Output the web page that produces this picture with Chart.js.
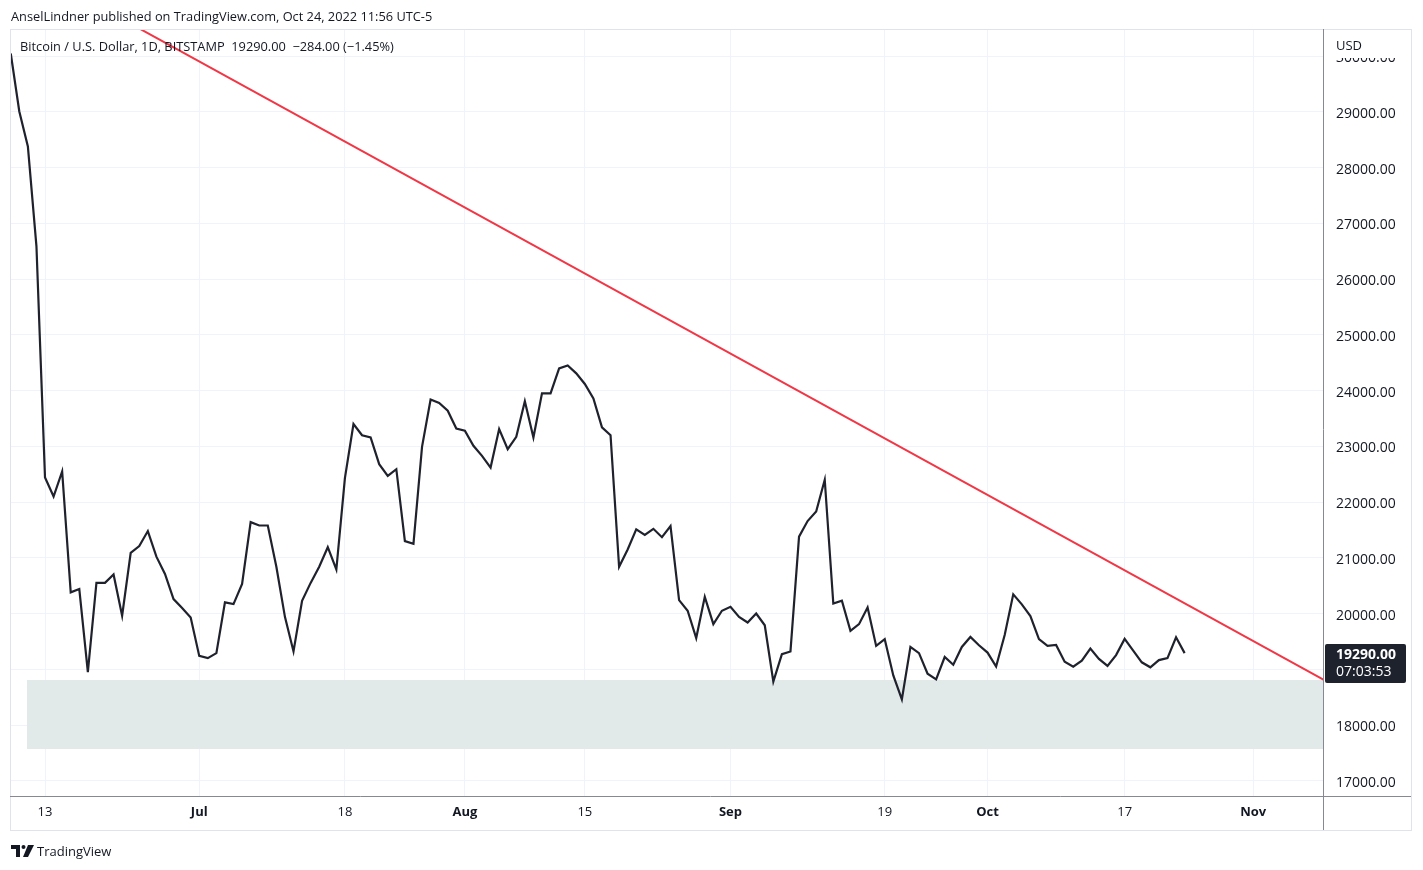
<!DOCTYPE html>
<html>
<head>
<meta charset="utf-8">
<script src="https://cdn.jsdelivr.net/npm/chart.js@4.4.1/dist/chart.umd.min.js"></script>
<style>
  html, body { margin: 0; padding: 0; background: #ffffff; }
  body { width: 1423px; height: 870px; position: relative; overflow: hidden; font-family: 'Open Sans', sans-serif; color: #131722; }
  #c { position: absolute; left: 0; top: 0; }
  .t { position: absolute; white-space: pre; line-height: 1; }
</style>
</head>
<body>
<canvas id="c" width="1423" height="870"></canvas>
<div class="t" style="left:11px; top:10px; font-size:12.8px;">AnselLindner published on TradingView.com, Oct 24, 2022 11:56 UTC-5</div>
<div class="t" style="left:20px; top:40px; font-size:12.8px;">Bitcoin / U.S. Dollar, 1D, BITSTAMP  19290.00  −284.00 (−1.45%)</div>
<div class="t" style="left:1336px; top:39px; font-size:13px;">USD</div>
<svg style="position:absolute; left:11px; top:845px;" width="24" height="13" viewBox="0 0 24 13">
  <path d="M0 0 H9 V12 H5 V4 H0 Z" fill="#131722"/>
  <circle cx="12.5" cy="2" r="2" fill="#131722"/>
  <path d="M17 0 H23 L17 12 H12 Z" fill="#131722"/>
</svg>
<div class="t" style="left:37px; top:845px; font-size:13px;">TradingView</div>
<script>
// ---------------- data ----------------
const originDate = '2022-06-13';          // day 0 of the time axis
const firstCloseDate = '2022-06-09';      // date of first close below
const closes = [
  // Jun 9 - Jun 30
  30050, 29010, 28380, 26590, 22440, 22100, 22550, 20380, 20440, 18950, 20550,
  20550, 20700, 19960, 21090, 21210, 21480, 21020, 20710, 20260, 20100, 19930,
  // Jul 1 - Jul 31
  19240, 19200, 19290, 20200, 20170, 20530, 21640, 21580, 21580, 20840, 19940,
  19320, 20230, 20550, 20840, 21190, 20790, 22430, 23400, 23200, 23160, 22680,
  22470, 22590, 21300, 21250, 22990, 23840, 23780, 23640, 23320,
  // Aug 1 - Aug 31
  23280, 23010, 22830, 22620, 23310, 22950, 23170, 23810, 23160, 23950, 23950,
  24400, 24450, 24310, 24120, 23860, 23340, 23200, 20840, 21150, 21510, 21410,
  21520, 21370, 21570, 20240, 20050, 19560, 20300, 19810, 20050,
  // Sep 1 - Sep 30
  20120, 19940, 19840, 20000, 19790, 18780, 19270, 19320, 21380, 21660, 21830,
  22400, 20180, 20230, 19690, 19810, 20110, 19420, 19540, 18890, 18460, 19400,
  19290, 18920, 18820, 19220, 19080, 19400, 19580, 19430,
  // Oct 1 - Oct 24
  19300, 19050, 19615, 20345, 20165, 19955, 19540, 19420, 19435, 19135, 19045,
  19155, 19370, 19185, 19060, 19255, 19545, 19335, 19125, 19035, 19165, 19200,
  19575, 19290
];
const lastPrice = 19290.00;
const countdown = '07:03:53';

// time-axis tick labels
const tickDates  = ['2022-06-13','2022-07-01','2022-07-18','2022-08-01','2022-08-15',
                    '2022-09-01','2022-09-19','2022-10-01','2022-10-17','2022-11-01'];
const tickLabels = ['13','Jul','18','Aug','15','Sep','19','Oct','17','Nov'];
const monthTick  = [false,true,false,true,false,true,false,true,false,true];

// price-axis ticks
const priceTicks = [17000, 18000, 19000, 20000, 21000, 22000, 23000, 24000,
                    25000, 26000, 27000, 28000, 29000, 30000];

// drawn trend line (two anchors, in days / USD)
const trendDays   = [10, 149.2];
const trendPrices = [30583, 18812];

// support zone (days / USD)
const zoneDays   = [-2.1, 149.2];
const zoneTop    = 18807;
const zoneBottom = 17569;

// visible ranges
const xRange = [-3.97, 149.15];
const yRange = [16726, 30471];

// ---------------- helpers ----------------
const DAY = 86400000;
const dayOf = s => Math.round((Date.parse(s + 'T00:00:00Z') - Date.parse(originDate + 'T00:00:00Z')) / DAY);
const firstDay = dayOf(firstCloseDate);
const priceData = closes.map((v, i) => ({ x: firstDay + i, y: v }));
const tickDays = tickDates.map(dayOf);

const framePlugin = {
  id: 'frame',
  afterDraw(chart) {
    const ctx = chart.ctx, ca = chart.chartArea, ys = chart.scales.y;
    ctx.save();
    // clip the top price label under the currency caption
    ctx.fillStyle = '#ffffff';
    ctx.fillRect(ca.right + 1, ca.top, 87, 28);
    // outer frame
    ctx.strokeStyle = '#e0e3eb';
    ctx.lineWidth = 1;
    ctx.strokeRect(10.5, 29.5, 1401, 801);
    // axis lines
    ctx.strokeStyle = '#868993';
    ctx.beginPath();
    ctx.moveTo(ca.right + 0.5, ca.top - 1);
    ctx.lineTo(ca.right + 0.5, 830);
    ctx.moveTo(ca.left - 1, ca.bottom + 0.5);
    ctx.lineTo(1411, ca.bottom + 0.5);
    ctx.stroke();
    // last-price label
    const py = ys.getPixelForValue(lastPrice);
    const bx = ca.right + 2, by = Math.round(py) - 9, bw = 81, bh = 39;
    ctx.fillStyle = '#1e222d';
    ctx.beginPath();
    ctx.roundRect(bx, by, bw, bh, 2);
    ctx.fill();
    ctx.fillStyle = '#ffffff';
    ctx.textBaseline = 'middle';
    ctx.textAlign = 'left';
    ctx.font = 'bold 14px "Open Sans"';
    ctx.fillText(lastPrice.toFixed(2), bx + 11, by + 11);
    ctx.font = '14px "Open Sans"';
    ctx.fillText(countdown, bx + 11, by + 28);
    ctx.restore();
  }
};

new Chart(document.getElementById('c'), {
  type: 'line',
  data: {
    datasets: [
      {
        label: 'BTCUSD',
        data: priceData,
        borderColor: '#1f222d',
        borderWidth: 2.2,
        pointRadius: 0,
        tension: 0,
        fill: false,
        order: 0
      },
      {
        label: 'trend',
        data: trendDays.map((d, i) => ({ x: d, y: trendPrices[i] })),
        borderColor: '#f23645',
        borderWidth: 2,
        pointRadius: 0,
        fill: false,
        order: 1
      },
      {
        label: 'zoneTop',
        data: zoneDays.map(d => ({ x: d, y: zoneTop })),
        borderWidth: 0,
        borderColor: 'rgba(0,0,0,0)',
        backgroundColor: '#e1eae8',
        pointRadius: 0,
        fill: '+1',
        order: 5
      },
      {
        label: 'zoneBottom',
        data: zoneDays.map(d => ({ x: d, y: zoneBottom })),
        borderWidth: 0,
        borderColor: 'rgba(0,0,0,0)',
        pointRadius: 0,
        fill: false,
        order: 6
      }
    ]
  },
  options: {
    responsive: false,
    animation: false,
    devicePixelRatio: 1,
    layout: { padding: { left: 11, top: 30, right: 11, bottom: 40 } },
    plugins: { legend: { display: false }, tooltip: { enabled: false } },
    scales: {
      x: {
        type: 'linear',
        min: xRange[0],
        max: xRange[1],
        afterBuildTicks: s => { s.ticks = tickDays.map(v => ({ value: v })); },
        afterFit: s => { s.height = 34; },
        grid: { color: '#f0f3fa', drawTicks: false },
        border: { display: false },
        ticks: {
          autoSkip: false,
          maxRotation: 0,
          padding: 8,
          color: '#131722',
          font: ctx => ({ family: 'Open Sans', size: 13, weight: monthTick[ctx.index] ? 'bold' : 'normal' }),
          callback: (v, i) => tickLabels[i]
        }
      },
      y: {
        position: 'right',
        min: yRange[0],
        max: yRange[1],
        afterBuildTicks: s => { s.ticks = priceTicks.map(v => ({ value: v })); },
        afterFit: s => { s.width = 89; },
        grid: { color: '#f0f3fa', drawTicks: false },
        border: { display: false },
        ticks: {
          autoSkip: false,
          padding: 13,
          labelOffset: 2,
          color: '#131722',
          font: { family: 'Open Sans', size: 14 },
          callback: v => Number(v).toFixed(2)
        }
      }
    }
  },
  plugins: [framePlugin]
});
</script>
</body>
</html>
